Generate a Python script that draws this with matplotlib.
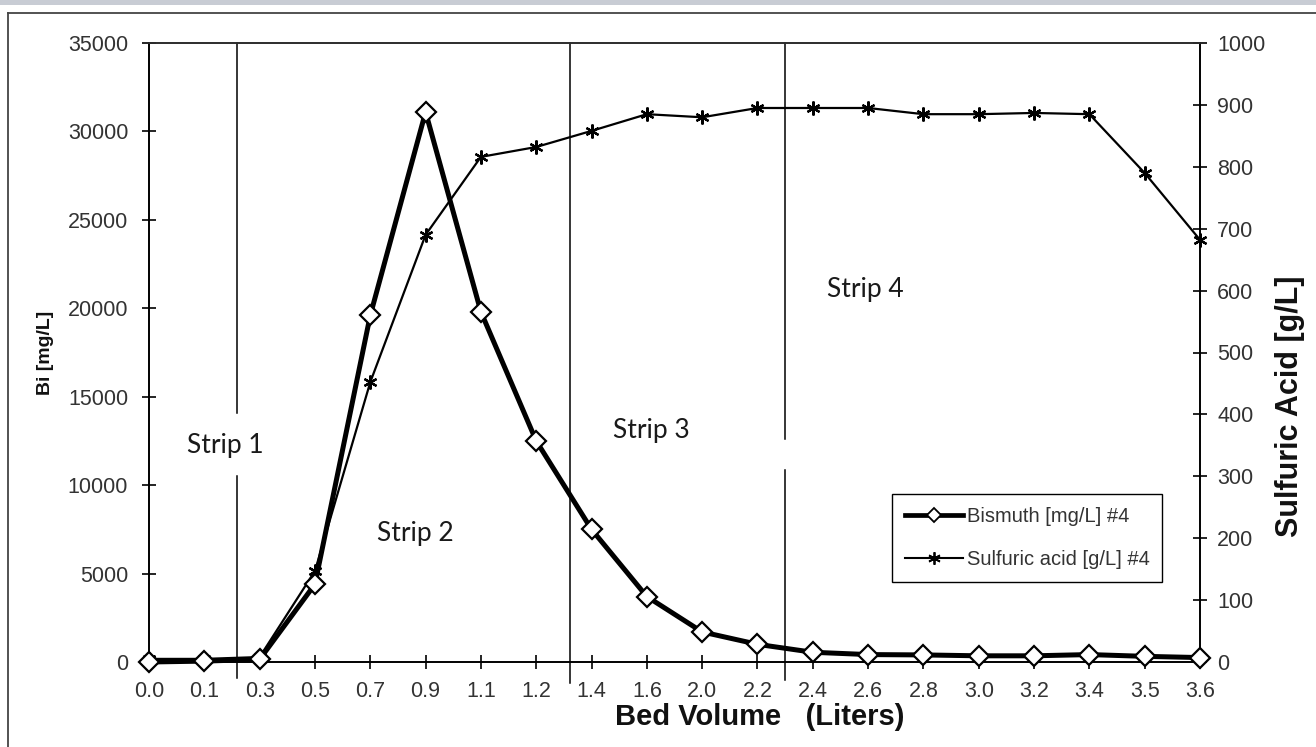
import matplotlib
matplotlib.use("Agg")
import matplotlib.pyplot as plt
from matplotlib.lines import Line2D
from matplotlib.patches import Rectangle
import numpy as np

# ---- data ----
bed_volume = ["0.0", "0.1", "0.3", "0.5", "0.7", "0.9", "1.1", "1.2", "1.4", "1.6",
              "2.0", "2.2", "2.4", "2.6", "2.8", "3.0", "3.2", "3.4", "3.5", "3.6"]
bismuth = [0, 50, 150, 4400, 19600, 31100, 19800, 12500, 7500, 3700,
           1700, 1000, 550, 420, 400, 350, 350, 420, 320, 250]
sulfuric = [5, 5, 8, 147, 452, 690, 816, 832, 858, 885,
            880, 895, 895, 895, 885, 885, 887, 885, 790, 682]
left_ticks = [0, 5000, 10000, 15000, 20000, 25000, 30000, 35000]
right_ticks = [0, 100, 200, 300, 400, 500, 600, 700, 800, 900, 1000]
strip_labels = ["Strip 1", "Strip 2", "Strip 3", "Strip 4"]

plt.rcParams['font.family'] = ['Liberation Sans', 'DejaVu Sans']

W, H = 1316, 747
fig = plt.figure(figsize=(W / 100, H / 100), dpi=100)

# axes placement (pixels -> fractions)
x0, x1, y0, y1 = 149, 1200, 43, 662
ax = fig.add_axes([x0 / W, 1 - y1 / H, (x1 - x0) / W, (y1 - y0) / H])
ax2 = ax.twinx()

x = np.arange(len(bed_volume))
ax.set_xlim(0, len(bed_volume) - 1)
ax.set_ylim(0, 35000)
ax2.set_ylim(0, 1000)

# series
ax2.plot(x, sulfuric, color='black', lw=1.6, marker=(6, 2, 0), markersize=10,
         markeredgewidth=1.6, clip_on=False, zorder=3)
ax.plot(x, bismuth, color='black', lw=3.6, marker='D', markersize=10,
        markerfacecolor='white', markeredgecolor='black', markeredgewidth=1.6,
        clip_on=False, zorder=4)
ax.set_zorder(ax2.get_zorder() + 1)
ax.patch.set_visible(False)

# ticks
ax.set_xticks(x)
ax.set_xticklabels(bed_volume)
ax.set_yticks(left_ticks)
ax.set_yticklabels([str(v) for v in left_ticks])
ax2.set_yticks(right_ticks)
ax2.set_yticklabels([str(v) for v in right_ticks])
for a in (ax, ax2):
    a.tick_params(direction='inout', length=10, width=1.2, colors='black',
                  labelsize=15.5, labelcolor='#333333')
ax.tick_params(axis='x', pad=9)
ax.tick_params(axis='y', pad=10)
ax2.tick_params(axis='y', pad=7.5)

for a in (ax, ax2):
    for s in a.spines.values():
        s.set_color('black')
        s.set_linewidth(1.2)
ax.spines['top'].set_color('#333333')

# axis titles (placed like the reference)
fig.text(760 / W, 1 - 717 / H, "Bed Volume   (Liters)", ha='center', va='center',
         fontsize=21, fontweight='bold', color='#111111')
fig.text(45 / W, 1 - 353 / H, "Bi [mg/L]", ha='center', va='center', rotation=90,
         fontsize=14, fontweight='bold', color='#111111')
fig.text(1290 / W, 1 - 406 / H, "Sulfuric Acid [g/L]", ha='center', va='center',
         rotation=90, fontsize=22, fontweight='bold', color='#111111')

# strip divider lines (data x in category units), drawn with gaps
trans = ax.get_xaxis_transform()
def vseg(xc, ya, yb):
    # ya, yb in pixel rows
    ax.plot([xc, xc], [1 - (ya - y0) / (y1 - y0), 1 - (yb - y0) / (y1 - y0)],
            transform=trans, color='black', lw=1.1, clip_on=False, zorder=2)
vseg(1.59, 43, 413)
vseg(1.59, 476, 678)
vseg(7.61, 43, 683)
vseg(11.5, 43, 439)
vseg(11.5, 470, 680)

# strip texts
strip_pos = [(225, 445), (415, 533), (651, 430), (865, 290)]
for lab, (px, py) in zip(strip_labels, strip_pos):
    fig.text(px / W, 1 - py / H, lab, ha='center', va='center',
             fontsize=19, family=['Lato', 'DejaVu Sans'], color='#1a1a1a')

# legend
handles = [
    Line2D([], [], color='black', lw=3.4, marker='D', markersize=7,
           markerfacecolor='white', markeredgecolor='black', markeredgewidth=1.3),
    Line2D([], [], color='black', lw=1.5, marker=(6, 2, 0), markersize=9,
           markeredgewidth=1.3),
]
leg = fig.legend(handles, ["Bismuth [mg/L] #4", "Sulfuric acid [g/L] #4"],
                 loc='upper left', bbox_to_anchor=(892 / W, 1 - 494 / H),
                 bbox_transform=fig.transFigure, fontsize=14.5, frameon=True,
                 fancybox=False, edgecolor='black', framealpha=1,
                 handlelength=2.9, handletextpad=0.15, labelspacing=1.2,
                 borderpad=0.65, borderaxespad=0)
leg.get_frame().set_linewidth(1.0)
for t in leg.get_texts():
    t.set_color('#333333')

# outer frame: top band, top line, left line
fig.patches.append(Rectangle((0, 1 - 5 / H), 1, 5 / H, transform=fig.transFigure,
                             facecolor='#c8ccd4', edgecolor='none'))
fig.add_artist(Line2D([8 / W, 1], [1 - 13 / H, 1 - 13 / H], transform=fig.transFigure,
                      color='#444444', lw=1.3))
fig.add_artist(Line2D([8 / W, 8 / W], [0, 1 - 13 / H], transform=fig.transFigure,
                      color='#444444', lw=1.3))

fig.savefig("out.png", dpi=100)
